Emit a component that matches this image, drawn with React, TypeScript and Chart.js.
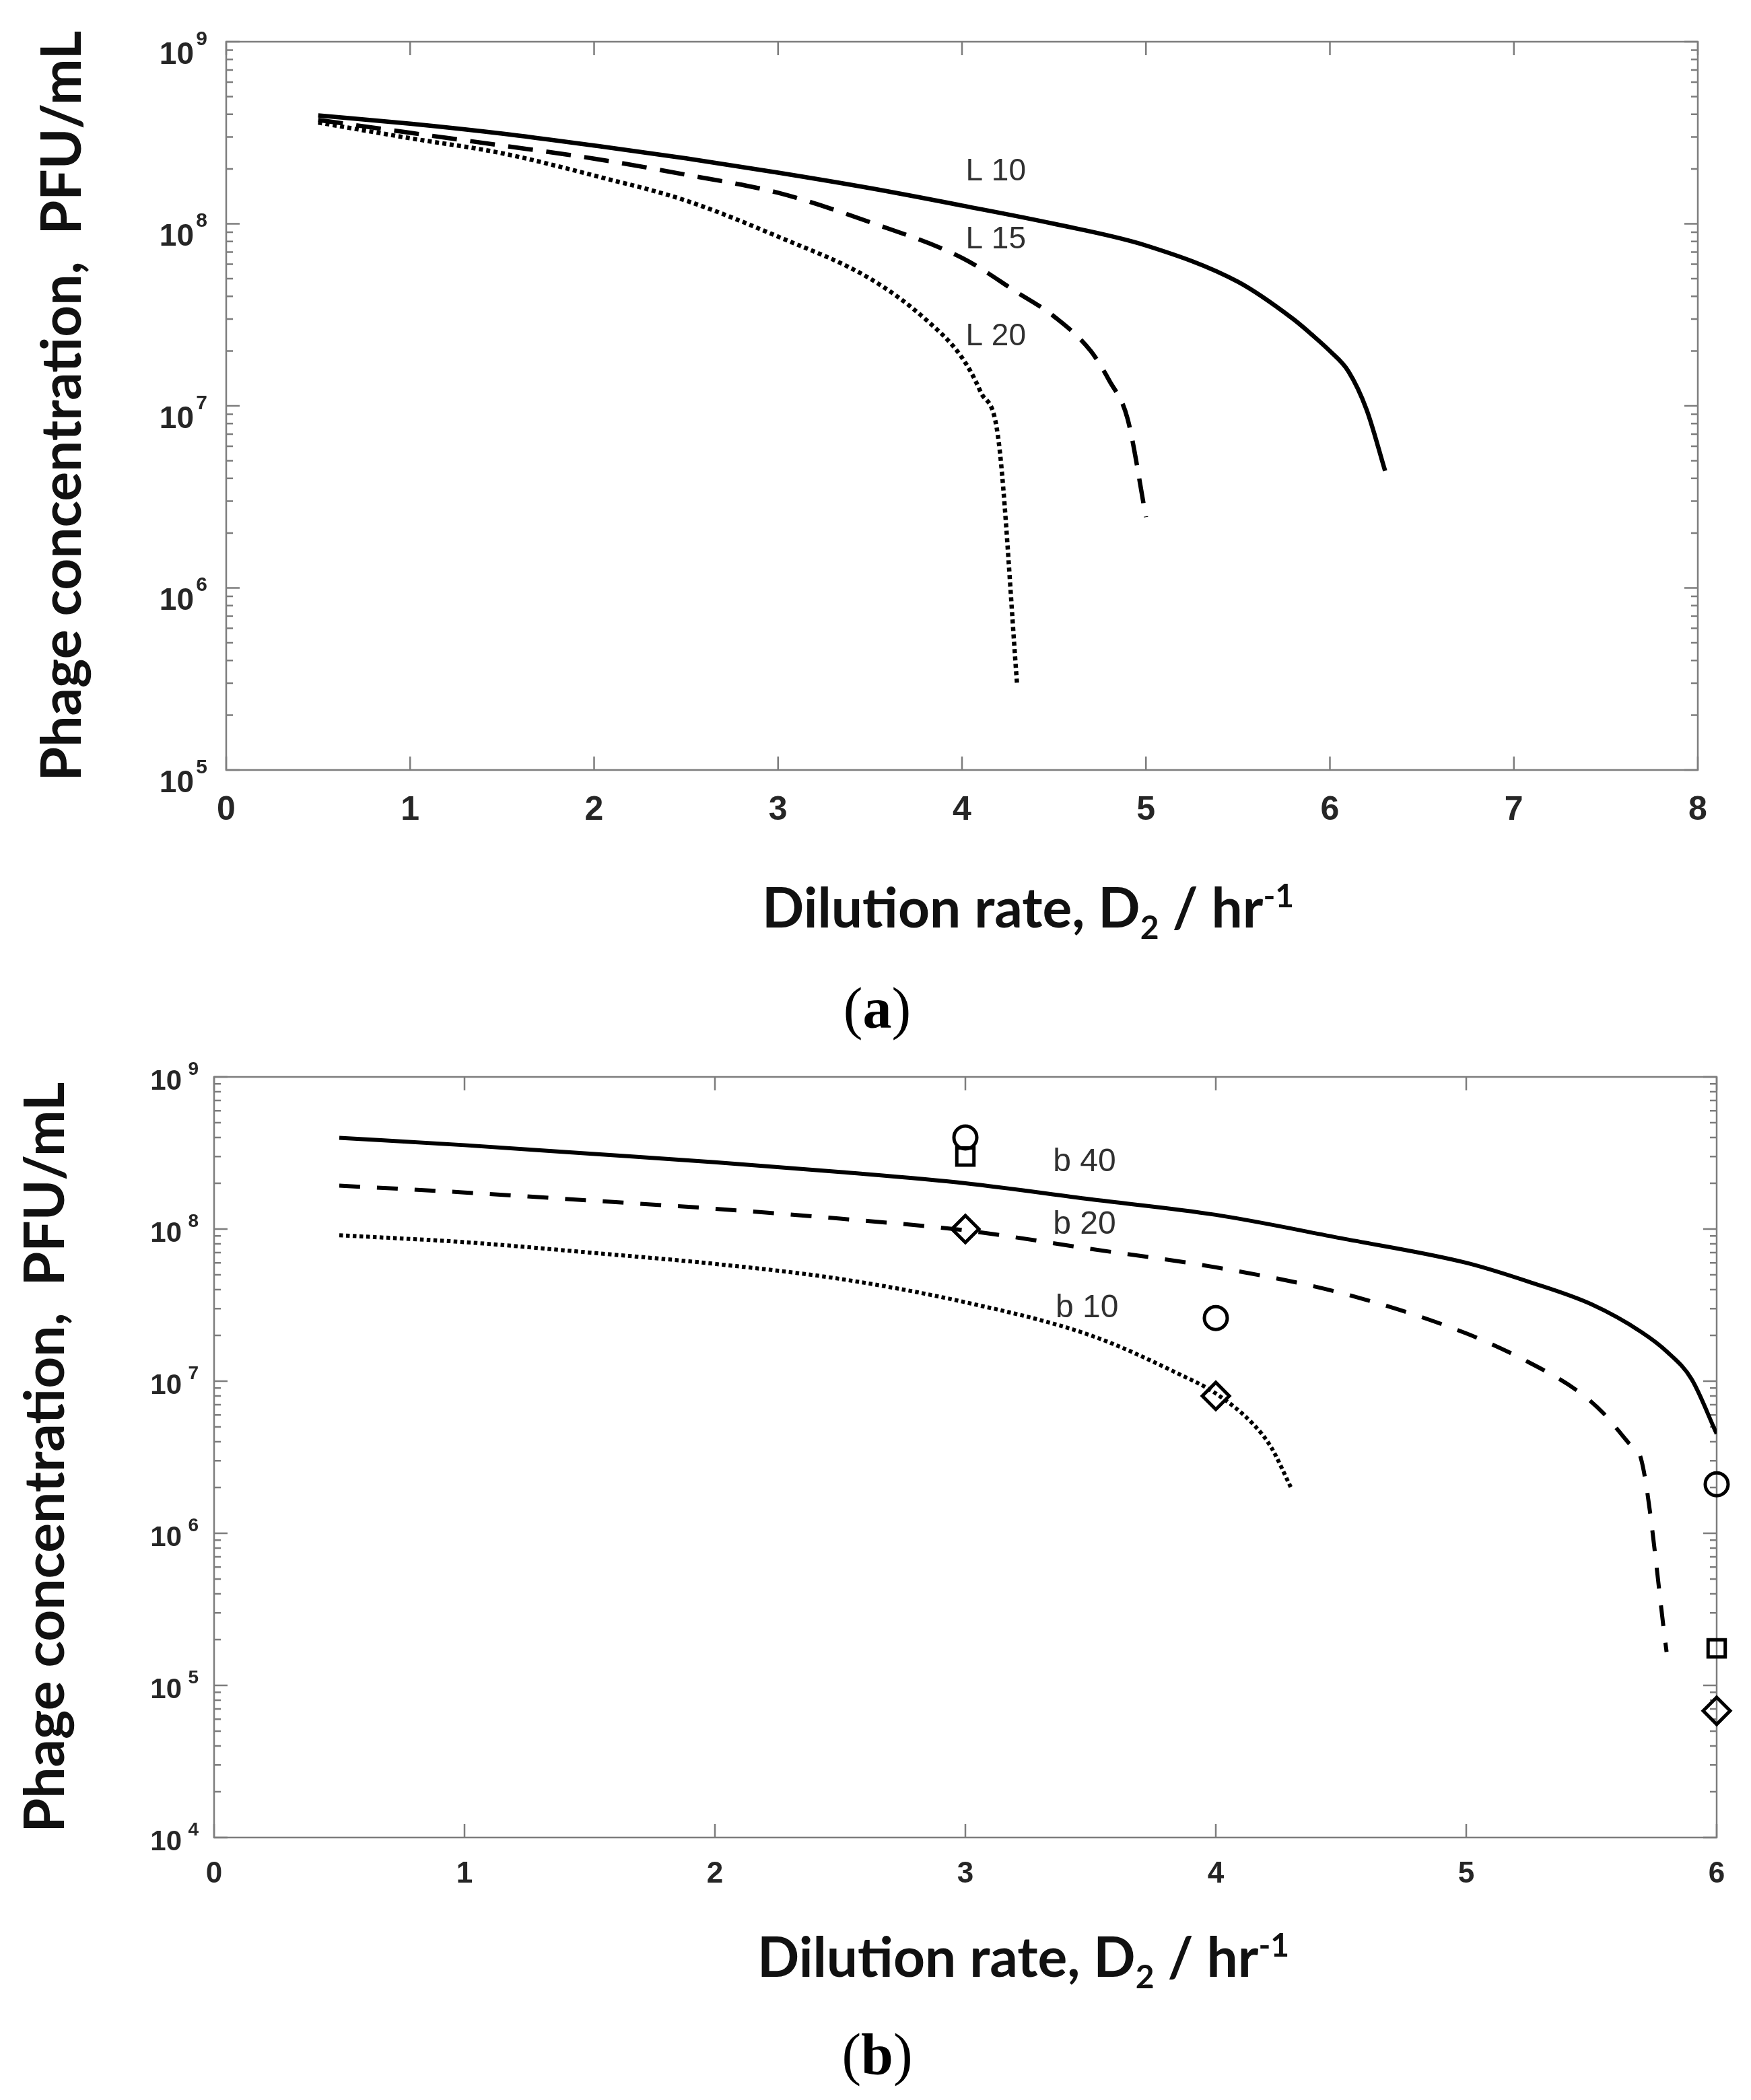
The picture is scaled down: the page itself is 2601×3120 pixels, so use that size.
import { useEffect, useRef } from "react";
import { Chart, registerables, type ChartConfiguration, type Plugin } from "chart.js";

Chart.register(...registerables);

// ---- panel (a): lysis time L ----
const L10_X = [0.5, 1, 1.5, 2, 2.5, 3, 3.5, 4, 4.5, 5, 5.5, 5.8, 5.9, 6, 6.1, 6.2, 6.3];
const L10_Y = [3.94e8, 3.55e8, 3.13e8, 2.69e8, 2.29e8, 1.91e8, 1.57e8, 1.26e8, 1.0e8, 7.6e7, 4.8e7, 3.0e7, 2.47e7, 2.0e7, 1.55e7, 9.5e6, 4.4e6];
const L15_X = [0.5, 1, 1.5, 2, 2.5, 3, 3.5, 4, 4.3, 4.5, 4.7, 4.8, 4.9, 5.0];
const L15_Y = [3.72e8, 3.16e8, 2.69e8, 2.28e8, 1.86e8, 1.48e8, 1.02e8, 6.5e7, 4.2e7, 3.1e7, 2.0e7, 1.38e7, 8.5e6, 2.45e6];
const L20_X = [0.5, 1, 1.5, 2, 2.5, 3, 3.5, 3.8, 4, 4.1, 4.2, 4.3];
const L20_Y = [3.6e8, 2.95e8, 2.44e8, 1.84e8, 1.34e8, 8.5e7, 5.0e7, 3.0e7, 1.84e7, 1.2e7, 6.3e6, 2.9e5];

const A_LABELS = ["L 10", "L 15", "L 20"];
const A_LABEL_X = [4.02, 4.02, 4.02];
const A_LABEL_Y = [1.93e8, 8.15e7, 2.39e7];

// ---- panel (b): burst size b ----
const B40_X = [0.5, 1, 1.5, 2, 2.5, 3, 3.5, 4, 4.5, 5, 5.25, 5.5, 5.7, 5.8, 5.9, 6.0];
const B40_Y = [3.98e8, 3.56e8, 3.13e8, 2.75e8, 2.37e8, 2.0e8, 1.57e8, 1.24e8, 8.7e7, 6.0e7, 4.5e7, 3.2e7, 2.1e7, 1.57e7, 1.03e7, 4.5e6];
const B20_X = [0.5, 1, 1.5, 2, 2.5, 3, 3.5, 4, 4.5, 5, 5.25, 5.45, 5.55, 5.65, 5.7, 5.8];
const B20_Y = [1.93e8, 1.74e8, 1.54e8, 1.36e8, 1.17e8, 9.8e7, 7.4e7, 5.6e7, 3.8e7, 2.06e7, 1.33e7, 8.5e6, 6.1e6, 3.9e6, 3.0e6, 1.66e5];
const B10_X = [0.5, 1, 1.5, 2, 2.5, 3, 3.5, 3.85, 4, 4.15, 4.22, 4.3];
const B10_Y = [9.1e7, 8.2e7, 7.0e7, 5.9e7, 4.7e7, 3.3e7, 2.0e7, 1.12e7, 8.3e6, 5.2e6, 3.7e6, 2.0e6];

// measured points
const CIRCLE_X = [3, 4, 6];
const CIRCLE_Y = [4.0e8, 2.6e7, 2.1e6];
const SQUARE_X = [3, 6];
const SQUARE_Y = [3.0e8, 1.75e5];
const DIAMOND_X = [3, 4, 6];
const DIAMOND_Y = [1.0e8, 8.0e6, 6.8e4];

const B_LABELS = ["b 40", "b 20", "b 10"];
const B_LABEL_X = [3.35, 3.35, 3.36];
const B_LABEL_Y = [2.75e8, 1.07e8, 3.0e7];

const Y_TITLE = "Phage concentration,  PFU/mL";

const PAGE_W = 2601;
const AXIS_GRAY = "#7d7d7d";
const TICK_TEXT = "#262626";
const TITLE_FONT = "Lato, 'Open Sans', sans-serif";
const TICK_FONT = "'Liberation Sans', Arial, sans-serif";

const pts = (xs: number[], ys: number[]) => xs.map((x, i) => ({ x, y: ys[i] }));
const isDecade = (v: number) => {
  const e = Math.log10(v);
  return Math.abs(e - Math.round(e)) < 1e-6;
};

interface LineSeries { xs: number[]; ys: number[]; dash: number[] }
interface MarkSeries { xs: number[]; ys: number[]; style: "circle" | "rect" | "rectRot"; radius: number }

interface PanelSpec {
  top: number;
  height: number;
  area: { left: number; top: number; right: number; bottom: number };
  xMax: number;
  yMin: number;
  yMax: number;
  xTickSize: number;
  yTickSize: number;
  expSize: number;
  expGap: number;
  expRise: number;
  xTickPad: number;
  yTickPad: number;
  yLabelOffset: number;
  lineWidth: number;
  yTitle: { x: number; y: number };
  xTitle: { x: number; y: number };
  labelSize: number;
  lines: LineSeries[];
  marks: MarkSeries[];
  labels: string[];
  labelX: number[];
  labelY: number[];
}

const PANEL_A: PanelSpec = {
  top: 0,
  height: 1420,
  area: { left: 336, top: 62, right: 2522, bottom: 1144 },
  xMax: 8,
  yMin: 1e5,
  yMax: 1e9,
  xTickSize: 50,
  yTickSize: 46,
  expSize: 30,
  expGap: 28,
  expRise: 31,
  xTickPad: 30,
  yTickPad: 48,
  yLabelOffset: 20,
  lineWidth: 6.5,
  yTitle: { x: 120, y: 603 },
  xTitle: { x: 1132, y: 1378 },
  labelSize: 46,
  lines: [
    { xs: L10_X, ys: L10_Y, dash: [] },
    { xs: L15_X, ys: L15_Y, dash: [37, 20] },
    { xs: L20_X, ys: L20_Y, dash: [6, 5] },
  ],
  marks: [],
  labels: A_LABELS,
  labelX: A_LABEL_X,
  labelY: A_LABEL_Y,
};

const PANEL_B: PanelSpec = {
  top: 1440,
  height: 1680,
  area: { left: 318, top: 160, right: 2550, bottom: 1290 },
  xMax: 6,
  yMin: 1e4,
  yMax: 1e9,
  xTickSize: 44,
  yTickSize: 42,
  expSize: 28,
  expGap: 23,
  expRise: 25,
  xTickPad: 28,
  yTickPad: 48,
  yLabelOffset: 7,
  lineWidth: 6,
  yTitle: { x: 95, y: 725 },
  xTitle: { x: 1125, y: 1497 },
  labelSize: 48,
  lines: [
    { xs: B40_X, ys: B40_Y, dash: [] },
    { xs: B20_X, ys: B20_Y, dash: [31, 25] },
    { xs: B10_X, ys: B10_Y, dash: [5.5, 4.5] },
  ],
  marks: [
    { xs: CIRCLE_X, ys: CIRCLE_Y, style: "circle", radius: 17 },
    { xs: SQUARE_X, ys: SQUARE_Y, style: "rect", radius: 18 },
    { xs: DIAMOND_X, ys: DIAMOND_Y, style: "rectRot", radius: 20 },
  ],
  labels: B_LABELS,
  labelX: B_LABEL_X,
  labelY: B_LABEL_Y,
};

// frame, inward ticks, exponents, curve labels and axis titles
function decorations(spec: PanelSpec): Plugin<"line"> {
  return {
    id: "decorations",
    beforeDatasetsDraw(chart) {
      const { ctx, chartArea: a, scales } = chart;
      const xs = scales.x;
      const ys = scales.y;
      ctx.save();
      ctx.strokeStyle = AXIS_GRAY;
      ctx.lineWidth = 2.5;
      ctx.strokeRect(a.left, a.top, a.right - a.left, a.bottom - a.top);
      ctx.beginPath();
      for (let v = 0; v <= spec.xMax; v++) {
        const px = xs.getPixelForValue(v);
        ctx.moveTo(px, a.bottom);
        ctx.lineTo(px, a.bottom - 20);
        ctx.moveTo(px, a.top);
        ctx.lineTo(px, a.top + 20);
      }
      const e0 = Math.round(Math.log10(spec.yMin));
      const e1 = Math.round(Math.log10(spec.yMax));
      for (let e = e0; e <= e1; e++) {
        for (let m = 1; m <= 9; m++) {
          const v = m * Math.pow(10, e);
          if (v > spec.yMax * 1.0001) break;
          const py = ys.getPixelForValue(v);
          const len = m === 1 ? 20 : 10;
          ctx.moveTo(a.left, py);
          ctx.lineTo(a.left + len, py);
          ctx.moveTo(a.right, py);
          ctx.lineTo(a.right - len, py);
        }
      }
      ctx.stroke();
      ctx.restore();
    },
    afterDraw(chart) {
      const { ctx, chartArea: a, scales } = chart;
      ctx.save();

      // exponents of the y tick labels ("10" is the library's own label)
      ctx.fillStyle = TICK_TEXT;
      ctx.font = `bold ${spec.expSize}px ${TICK_FONT}`;
      ctx.textAlign = "right";
      ctx.textBaseline = "alphabetic";
      const base = 0.3465 * spec.yTickSize + spec.yLabelOffset;
      for (const t of scales.y.ticks) {
        if (!isDecade(t.value)) continue;
        const py = scales.y.getPixelForValue(t.value);
        ctx.fillText(String(Math.round(Math.log10(t.value))), a.left - spec.expGap, py + base - spec.expRise);
      }

      // curve labels
      ctx.fillStyle = "#303030";
      ctx.font = `${spec.labelSize}px ${TICK_FONT}`;
      ctx.textAlign = "left";
      ctx.textBaseline = "middle";
      spec.labels.forEach((t, i) => {
        ctx.fillText(t, scales.x.getPixelForValue(spec.labelX[i]), scales.y.getPixelForValue(spec.labelY[i]));
      });

      // y title
      ctx.fillStyle = "#111";
      ctx.save();
      ctx.translate(spec.yTitle.x, spec.yTitle.y);
      ctx.rotate(-Math.PI / 2);
      ctx.font = `bold 82px ${TITLE_FONT}`;
      ctx.textAlign = "center";
      ctx.textBaseline = "alphabetic";
      ctx.fillText(Y_TITLE, 0, 0);
      ctx.restore();

      // x title with sub/superscript
      const parts = [
        { t: "Dilution rate, D", size: 82, dy: 0 },
        { t: "2", size: 48, dy: 17 },
        { t: " / hr", size: 82, dy: 0 },
        { t: "-1", size: 48, dy: -30 },
      ];
      ctx.textAlign = "left";
      ctx.textBaseline = "alphabetic";
      let cx = spec.xTitle.x;
      for (const p of parts) {
        ctx.font = `bold ${p.size}px ${TITLE_FONT}`;
        ctx.fillText(p.t, cx, spec.xTitle.y + p.dy);
        cx += ctx.measureText(p.t).width;
      }
      ctx.restore();
    },
  };
}

function buildConfig(spec: PanelSpec): ChartConfiguration<"line"> {
  const lineSets = spec.lines.map((s) => ({
    data: pts(s.xs, s.ys),
    borderColor: "#000",
    borderWidth: spec.lineWidth,
    borderDash: s.dash,
    pointRadius: 0,
    cubicInterpolationMode: "monotone" as const,
    fill: false,
  }));
  const markSets = spec.marks.map((m) => ({
    data: pts(m.xs, m.ys),
    showLine: false,
    pointStyle: m.style,
    pointRadius: m.radius,
    pointBorderWidth: 5,
    pointBorderColor: "#000",
    pointBackgroundColor: "rgba(0,0,0,0)",
    borderColor: "#000",
    clip: false as const,
  }));
  return {
    type: "line",
    data: { datasets: [...lineSets, ...markSets] },
    options: {
      animation: false,
      responsive: false,
      devicePixelRatio: 1,
      events: [],
      layout: {
        padding: { top: spec.area.top, right: PAGE_W - spec.area.right, left: 0, bottom: 0 },
      },
      plugins: { legend: { display: false }, tooltip: { enabled: false } },
      scales: {
        x: {
          type: "linear",
          min: 0,
          max: spec.xMax,
          grid: { display: false, drawTicks: false },
          border: { display: false },
          ticks: {
            stepSize: 1,
            color: TICK_TEXT,
            padding: spec.xTickPad,
            font: { family: TICK_FONT, size: spec.xTickSize, weight: "bold" },
            maxRotation: 0,
          },
          afterFit: (s) => {
            s.height = spec.height - spec.area.bottom;
            s.paddingLeft = 0;
            s.paddingRight = 0;
          },
        },
        y: {
          type: "logarithmic",
          min: spec.yMin,
          max: spec.yMax,
          grid: { display: false, drawTicks: false },
          border: { display: false },
          ticks: {
            autoSkip: false,
            color: TICK_TEXT,
            padding: spec.yTickPad,
            labelOffset: spec.yLabelOffset,
            font: { family: TICK_FONT, size: spec.yTickSize, weight: "bold" },
            callback: (v) => (isDecade(Number(v)) ? "10" : ""),
          },
          afterFit: (s) => {
            s.width = spec.area.left;
            s.paddingTop = 0;
            s.paddingBottom = 0;
          },
        },
      },
    },
    plugins: [decorations(spec)],
  };
}

function Panel({ spec }: { spec: PanelSpec }) {
  const canvasRef = useRef<HTMLCanvasElement>(null);

  useEffect(() => {
    if (!canvasRef.current) return;
    const chart = new Chart(canvasRef.current, buildConfig(spec));
    return () => {
      chart.destroy();
    };
  }, [spec]);

  return (
    <canvas
      ref={canvasRef}
      width={PAGE_W}
      height={spec.height}
      style={{ position: "absolute", left: 0, top: spec.top, width: PAGE_W, height: spec.height, display: "block" }}
    />
  );
}

function Caption({ letter, top }: { letter: string; top: number }) {
  return (
    <div
      style={{
        position: "absolute",
        left: 1203,
        top,
        width: 200,
        textAlign: "center",
        fontFamily: "'Liberation Serif', 'Times New Roman', serif",
        fontSize: 86,
        lineHeight: "86px",
        color: "#000",
      }}
    >
      (<b>{letter}</b>)
    </div>
  );
}

export default function App() {
  return (
    <div style={{ position: "absolute", left: 0, top: 0, width: PAGE_W, height: 3120, background: "#fff" }}>
      <Panel spec={PANEL_A} />
      <Caption letter="a" top={1455} />
      <Panel spec={PANEL_B} />
      <Caption letter="b" top={3009} />
    </div>
  );
}
